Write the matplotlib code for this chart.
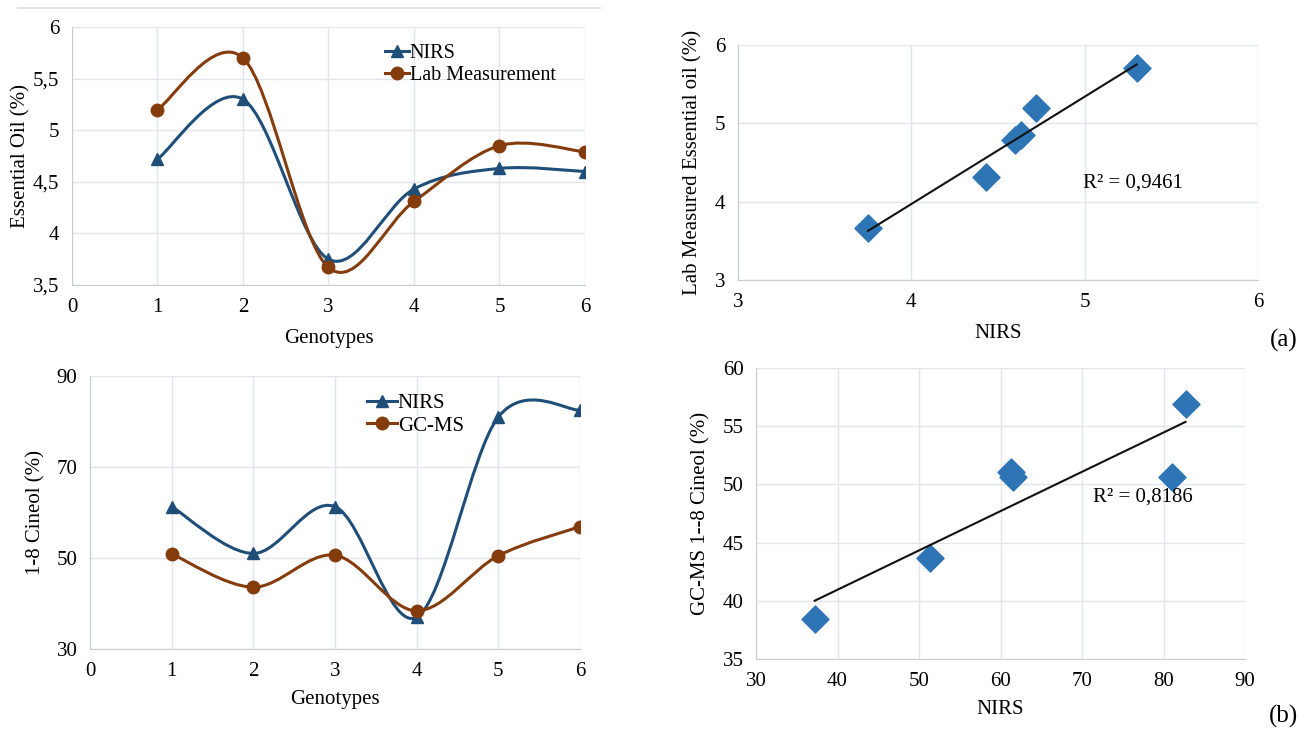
import numpy as np
import matplotlib
matplotlib.use("Agg")
import matplotlib.pyplot as plt
from matplotlib.path import Path
from matplotlib.patches import PathPatch
from matplotlib.lines import Line2D
from matplotlib.ticker import FuncFormatter

plt.rcParams['font.family'] = ['Liberation Serif', 'DejaVu Serif']
plt.rcParams['font.size'] = 15

# Данные
genotypes = [1, 2, 3, 4, 5, 6]
oil_nirs = [4.72, 5.30, 3.75, 4.43, 4.63, 4.60]
oil_lab = [5.20, 5.70, 3.67, 4.31, 4.85, 4.79]
cin_nirs = [61.3, 51.0, 61.3, 37.0, 81.0, 82.5]
cin_gcms = [50.9, 43.6, 50.6, 38.4, 50.5, 56.9]

sc_a_x = [3.75, 4.43, 4.60, 4.63, 4.72, 5.30]
sc_a_y = [3.67, 4.31, 4.79, 4.85, 5.20, 5.70]
sc_b_x = [37.2, 51.3, 61.3, 61.5, 81.0, 82.7]
sc_b_y = [38.4, 43.7, 51.1, 50.6, 50.6, 56.9]
r2_a = "R² = 0,9461"
r2_b = "R² = 0,8186"

BLUE = '#1F4E79'
BROWN = '#843C0C'
DIAM = '#2E75B6'
GRID = '#E1E5EC'
AXIS = '#C8CCD2'


def comma(v, pos):
    return ('%g' % v).replace('.', ',')


def smooth_path(x, y):
    # сглаженная линия как в Excel (Безье, Catmull-Rom)
    p = np.column_stack([x, y]).astype(float)
    n = len(p)
    verts = [p[0]]
    codes = [Path.MOVETO]
    for i in range(n - 1):
        p0 = p[i - 1] if i > 0 else p[i]
        p3 = p[i + 2] if i + 2 < n else p[i + 1]
        c1 = p[i] + (p[i + 1] - p0) / 6
        c2 = p[i + 1] - (p3 - p[i]) / 6
        verts += [c1, c2, p[i + 1]]
        codes += [Path.CURVE4] * 3
    return Path(verts, codes)


def style(ax):
    ax.grid(True, color=GRID, lw=1)
    ax.set_axisbelow(True)
    for s in ['top', 'right']:
        ax.spines[s].set_visible(False)
    for s in ['left', 'bottom']:
        ax.spines[s].set_color(AXIS)
    ax.tick_params(length=0, pad=9, labelsize=15)
    ax.xaxis.set_major_formatter(FuncFormatter(comma))
    ax.yaxis.set_major_formatter(FuncFormatter(comma))


fig = plt.figure(figsize=(13.06, 7.29), dpi=100)

# (a) слева: эфирное масло
ax1 = fig.add_axes([0.0551, 0.609, 0.3928, 0.3539])
for yv, col, mk in [(oil_nirs, BLUE, '^'), (oil_lab, BROWN, 'o')]:
    ax1.add_patch(PathPatch(smooth_path(genotypes, yv), fc='none', ec=col, lw=2.2, zorder=3))
    ax1.plot(genotypes, yv, ls='none', marker=mk, ms=9, color=col, zorder=4)
ax1.set_xlim(0, 6)
ax1.set_ylim(3.5, 6)
ax1.set_yticks(np.arange(3.5, 6.01, 0.5))
style(ax1)
ax1.set_xlabel('Genotypes', labelpad=9)
ax1.set_ylabel('Essential Oil (%)', labelpad=2)
h1 = [Line2D([], [], color=BLUE, marker='^', ms=9, lw=2.2),
      Line2D([], [], color=BROWN, marker='o', ms=9, lw=2.2)]
ax1.legend(h1, ['NIRS', 'Lab Measurement'], loc='upper left', bbox_to_anchor=(0.59, 0.975),
           frameon=False, handlelength=1.2, handletextpad=0.05, labelspacing=0.15, borderpad=0,
           fontsize=14.5)

# (a) справа: регрессия
ax2 = fig.add_axes([0.5651, 0.6159, 0.3982, 0.3224])
ax2.scatter(sc_a_x, sc_a_y, marker='D', s=190, color=DIAM, zorder=3)
k, b = np.polyfit(sc_a_x, sc_a_y, 1)
xa = np.array([min(sc_a_x), max(sc_a_x)])
ax2.plot(xa, k * xa + b, color='#111111', lw=1.5, zorder=4)
ax2.text(4.99, 4.24, r2_a, fontsize=15, va='center')
ax2.set_xlim(3, 6)
ax2.set_ylim(3, 6)
ax2.set_xticks([3, 4, 5, 6])
ax2.set_yticks([3, 4, 5, 6])
style(ax2)
ax2.set_xlabel('NIRS', labelpad=9)
ax2.set_ylabel('Lab Measured Essential oil (%)', labelpad=9)
fig.text(1298 / 1306, 1 - 340 / 729, '(a)', fontsize=18, ha='right', va='center')

# (b) слева: 1-8 цинеол
ax3 = fig.add_axes([0.0689, 0.1097, 0.3752, 0.3745])
for yv, col, mk in [(cin_nirs, BLUE, '^'), (cin_gcms, BROWN, 'o')]:
    ax3.add_patch(PathPatch(smooth_path(genotypes, yv), fc='none', ec=col, lw=2.2, zorder=3))
    ax3.plot(genotypes, yv, ls='none', marker=mk, ms=9, color=col, zorder=4)
ax3.set_xlim(0, 6)
ax3.set_ylim(30, 90)
ax3.set_yticks([30, 50, 70, 90])
style(ax3)
ax3.set_xlabel('Genotypes', labelpad=7)
ax3.set_ylabel('1-8 Cineol (%)', labelpad=8)
ax3.legend(h1, ['NIRS', 'GC-MS'], loc='upper left', bbox_to_anchor=(0.545, 0.975),
           frameon=False, handlelength=1.4, handletextpad=0.05, labelspacing=0.15, borderpad=0,
           fontsize=15)

# (b) справа: регрессия
ax4 = fig.add_axes([0.5789, 0.0960, 0.3744, 0.3992])
ax4.scatter(sc_b_x, sc_b_y, marker='D', s=190, color=DIAM, zorder=3)
k, b = np.polyfit(sc_b_x, sc_b_y, 1)
xb = np.array([min(sc_b_x), max(sc_b_x)])
ax4.plot(xb, k * xb + b, color='#111111', lw=1.5, zorder=4)
ax4.text(71.3, 48.9, r2_b, fontsize=15, va='center')
ax4.set_xlim(30, 90)
ax4.set_ylim(35, 60)
ax4.set_xticks(np.arange(30, 91, 10))
ax4.set_yticks(np.arange(35, 61, 5))
style(ax4)
ax4.set_xlabel('NIRS', labelpad=7)
ax4.set_ylabel('GC-MS 1--8 Cineol (%)', labelpad=9)
fig.text(1298 / 1306, 1 - 716 / 729, '(b)', fontsize=18, ha='right', va='center')

# тонкая линия сверху
fig.add_artist(Line2D([18 / 1306, 600 / 1306], [1 - 8 / 729] * 2, transform=fig.transFigure,
                      color='#DADDE2', lw=1.2))

fig.savefig('out.png', dpi=100)
